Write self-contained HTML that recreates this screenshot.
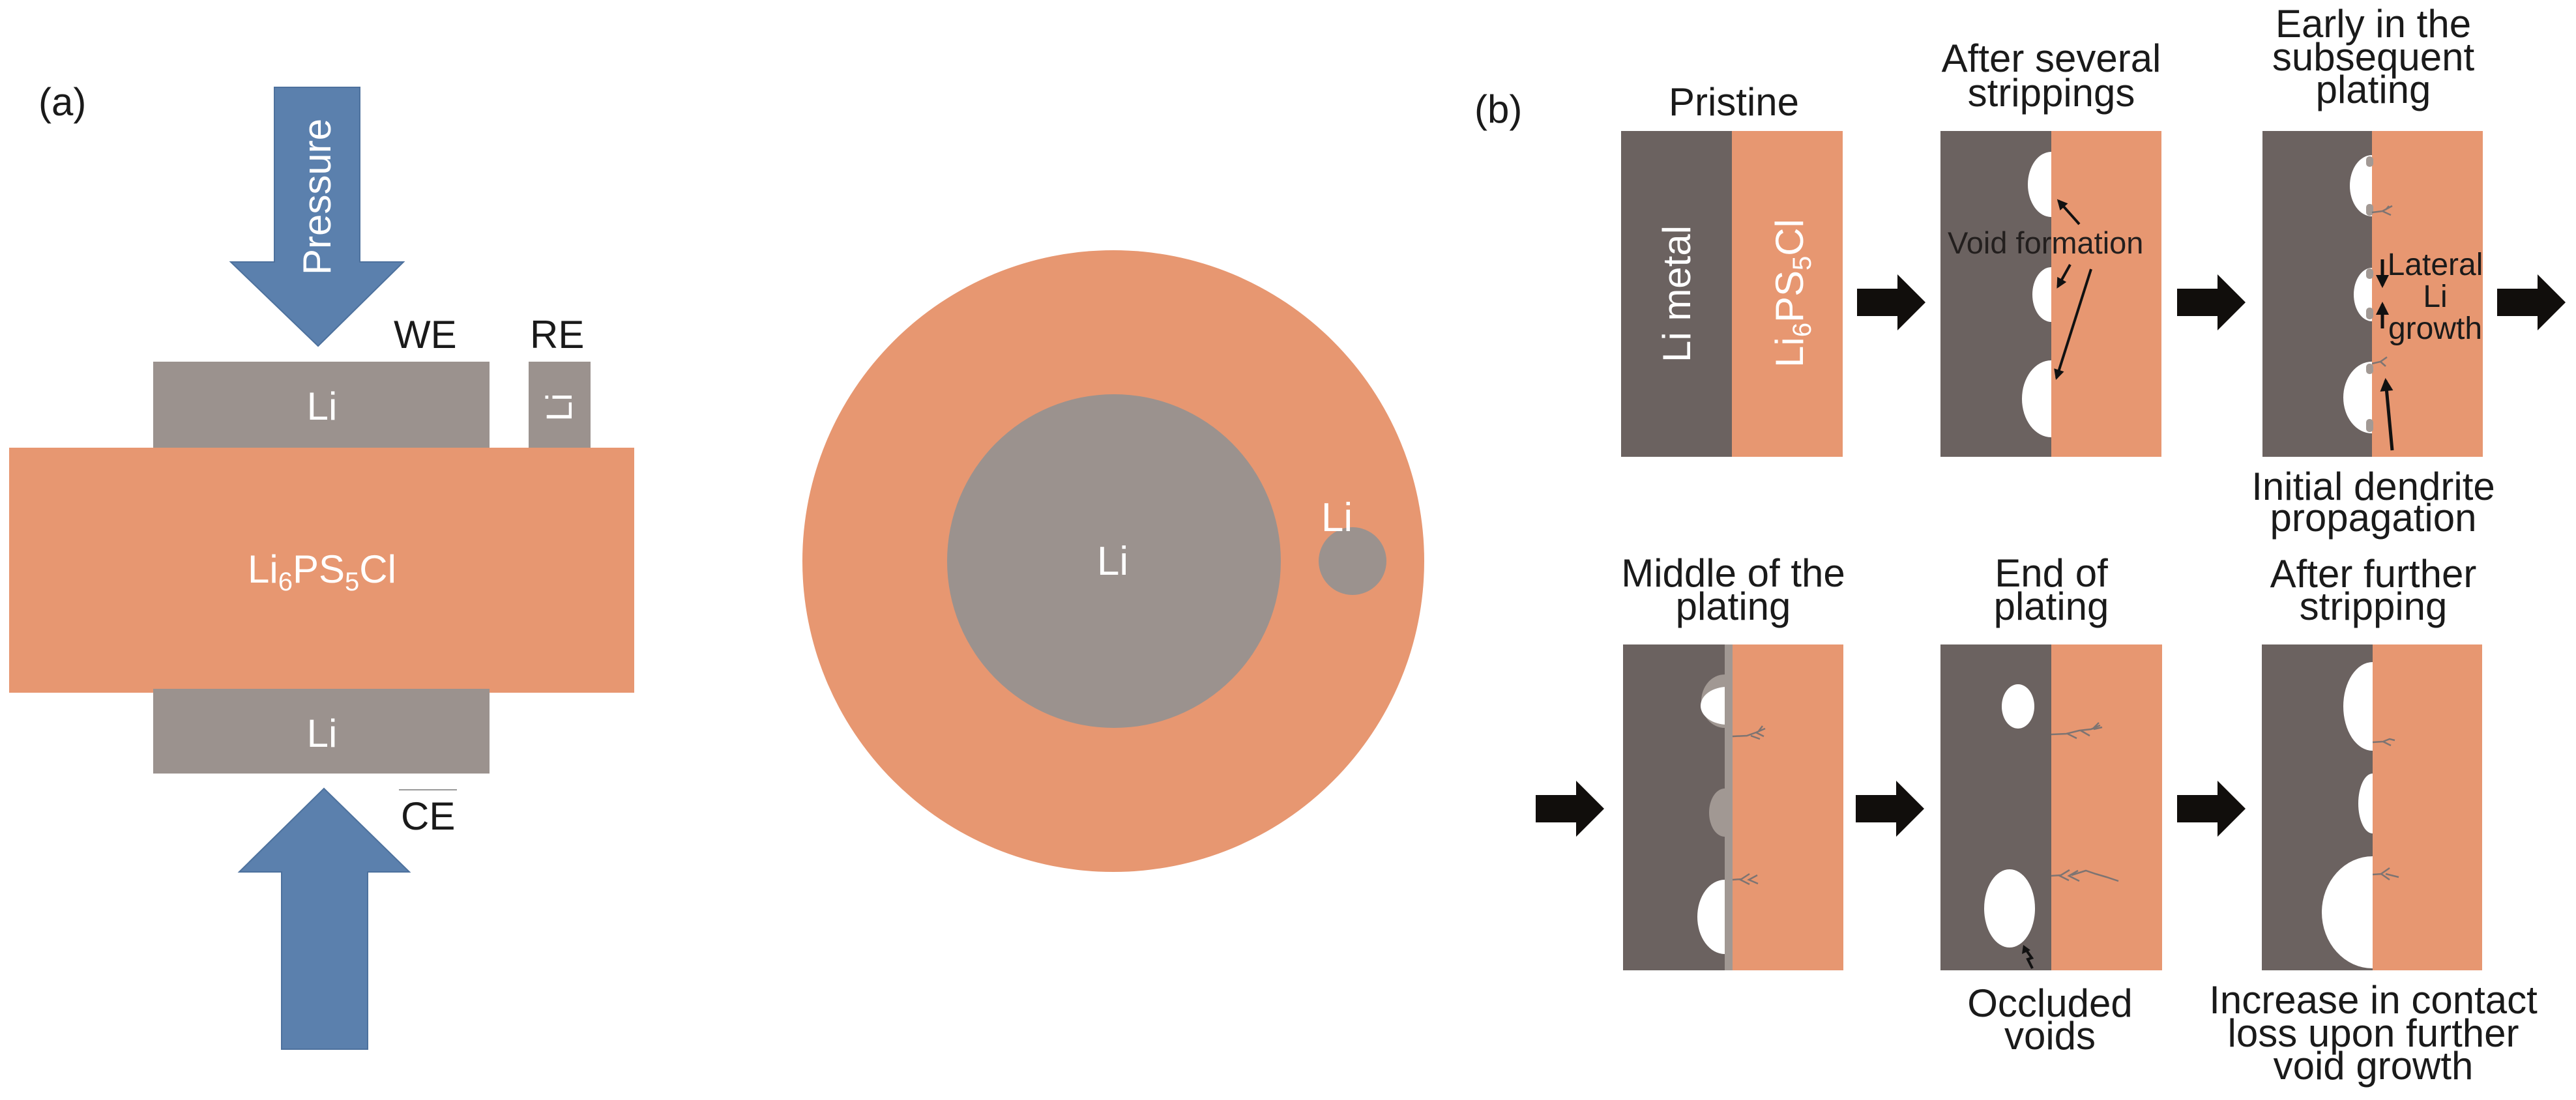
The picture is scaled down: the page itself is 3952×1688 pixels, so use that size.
<!DOCTYPE html>
<html><head><meta charset="utf-8"><style>
html,body{margin:0;padding:0;background:#fff;}
svg{display:block;}
text{font-family:"Liberation Sans",Arial,sans-serif;}
</style></head><body>
<svg width="3952" height="1688" viewBox="0 0 3952 1688" xmlns="http://www.w3.org/2000/svg">
<defs>
<marker id="ah" viewBox="0 0 10 10" refX="8" refY="5" markerWidth="5" markerHeight="4" orient="auto" markerUnits="strokeWidth">
<path d="M0,0 L10,5 L0,10 Z" fill="#111"/>
</marker>
</defs>
<rect width="3952" height="1688" fill="#fff"/>

<!-- ===== (a) ===== -->
<text x="59" y="177" font-size="60" fill="#1a1a1a">(a)</text>
<!-- down arrow -->
<polygon points="421,134 552,134 552,402 619,402 488,531 354,402 421,402" fill="#5b80ad" stroke="#4d719d" stroke-width="2"/>
<text transform="translate(486,302) rotate(-90)" x="0" y="21" text-anchor="middle" font-size="60" fill="#fff">Pressure</text>
<text x="604" y="534" font-size="60" fill="#1a1a1a">WE</text>
<text x="813" y="534" font-size="60" fill="#1a1a1a">RE</text>
<!-- top Li -->
<rect x="235" y="555" width="516" height="137" fill="#9b928e"/>
<text x="494" y="644" text-anchor="middle" font-size="60" fill="#fff">Li</text>
<rect x="811" y="555" width="95" height="137" fill="#9b928e"/>
<text transform="translate(857,625) rotate(-90)" x="0" y="20" text-anchor="middle" font-size="56" fill="#fff">Li</text>
<!-- electrolyte -->
<rect x="14" y="687" width="959" height="376" fill="#e79771"/>
<text x="494" y="894" text-anchor="middle" font-size="60" fill="#fff">Li<tspan font-size="40" dy="12">6</tspan><tspan dy="-12">PS</tspan><tspan font-size="40" dy="12">5</tspan><tspan dy="-12">Cl</tspan></text>
<!-- bottom Li -->
<rect x="235" y="1057" width="516" height="130" fill="#9b928e"/>
<text x="494" y="1146" text-anchor="middle" font-size="60" fill="#fff">Li</text>
<line x1="612" y1="1212" x2="701" y2="1212" stroke="#999" stroke-width="2"/>
<text x="615" y="1273" font-size="60" fill="#1a1a1a">CE</text>
<!-- up arrow -->
<polygon points="432,1610 564,1610 564,1338 628,1338 497,1210 367,1338 432,1338" fill="#5b80ad" stroke="#4d719d" stroke-width="2"/>

<!-- circle -->
<circle cx="1708" cy="861" r="477" fill="#e79771"/>
<circle cx="1709" cy="861" r="256" fill="#9b928e"/>
<circle cx="2075" cy="861" r="52" fill="#9b928e"/>
<text x="1707" y="882" text-anchor="middle" font-size="62" fill="#fff">Li</text>
<text x="2051" y="815" text-anchor="middle" font-size="62" fill="#fff">Li</text>

<!-- ===== (b) ===== -->
<text x="2262" y="188" font-size="60" fill="#1a1a1a">(b)</text>

<!-- Titles -->
<g font-size="60" fill="#1a1a1a" text-anchor="middle">
<text x="2660" y="177">Pristine</text>
<text x="3147" y="110">After several</text>
<text x="3147" y="163">strippings</text>
<text x="3641" y="57">Early in the</text>
<text x="3641" y="108">subsequent</text>
<text x="3641" y="158">plating</text>
<text x="3641" y="767">Initial dendrite</text>
<text x="3641" y="815">propagation</text>
<text x="2659" y="900">Middle of the</text>
<text x="2659" y="951">plating</text>
<text x="3147" y="900">End of</text>
<text x="3147" y="951">plating</text>
<text x="3641" y="901">After further</text>
<text x="3641" y="951">stripping</text>
<text x="3145" y="1560">Occluded</text>
<text x="3145" y="1610">voids</text>
<text x="3641" y="1555">Increase in contact</text>
<text x="3641" y="1606">loss upon further</text>
<text x="3641" y="1656">void growth</text>
</g>

<!-- Panel 1 -->
<rect x="2487" y="201" width="170" height="500" fill="#6b6260"/>
<rect x="2657" y="201" width="170" height="500" fill="#e79771"/>
<text transform="translate(2572,451) rotate(-90)" x="0" y="21" text-anchor="middle" font-size="60" fill="#fff">Li metal</text>
<text transform="translate(2745,450) rotate(-90)" x="0" y="21" text-anchor="middle" font-size="60" fill="#fff">Li<tspan font-size="40" dy="12">6</tspan><tspan dy="-12">PS</tspan><tspan font-size="40" dy="12">5</tspan><tspan dy="-12">Cl</tspan></text>

<!-- Panel 2 -->
<rect x="2977" y="201" width="170" height="500" fill="#6b6260"/>
<ellipse cx="3147" cy="283" rx="36" ry="50" fill="#fff"/>
<ellipse cx="3147" cy="452" rx="29" ry="42" fill="#fff"/>
<ellipse cx="3147" cy="612" rx="45" ry="59" fill="#fff"/>
<rect x="3147" y="201" width="169" height="500" fill="#e79771"/>
<text x="2988" y="389" font-size="47" fill="#231f1e">Void formation</text>
<g stroke="#111" stroke-width="4" fill="none" marker-end="url(#ah)">
<line x1="3190" y1="344" x2="3158" y2="308"/>
<line x1="3176" y1="406" x2="3157" y2="440"/>
<line x1="3208" y1="413" x2="3155" y2="580"/>
</g>

<!-- Panel 3 -->
<rect x="3471" y="201" width="168" height="500" fill="#6b6260"/>
<ellipse cx="3639" cy="285" rx="34" ry="47" fill="#fff"/>
<ellipse cx="3639" cy="452" rx="28" ry="41" fill="#fff"/>
<ellipse cx="3639" cy="610" rx="44" ry="55" fill="#fff"/>
<rect x="3639" y="201" width="170" height="500" fill="#e79771"/>
<g fill="#a29994">
<rect x="3630" y="240" width="11" height="16" rx="5"/>
<rect x="3630" y="313" width="11" height="18" rx="5"/>
<rect x="3630" y="412" width="11" height="16" rx="5"/>
<rect x="3630" y="472" width="11" height="18" rx="5"/>
<rect x="3630" y="558" width="11" height="16" rx="5"/>
<rect x="3630" y="643" width="11" height="20" rx="5"/>
</g>
<g stroke="#7d7472" stroke-width="2.5" fill="none">
<path d="M3639 326 L3655 324 L3670 316 M3655 324 L3668 330 M3660 322 L3665 316"/>
<path d="M3639 558 L3652 555 L3662 548 M3652 555 L3660 562"/>
</g>
<text x="3736" y="422" text-anchor="middle" font-size="48" fill="#1a1a1a">Lateral</text>
<text x="3736" y="471" text-anchor="middle" font-size="48" fill="#1a1a1a">Li</text>
<text x="3736" y="520" text-anchor="middle" font-size="48" fill="#1a1a1a">growth</text>
<g stroke="#111" stroke-width="5" fill="none" marker-end="url(#ah)">
<line x1="3655" y1="398" x2="3655" y2="438"/>
<line x1="3655" y1="504" x2="3655" y2="467"/>
<line x1="3670" y1="691" x2="3660" y2="584"/>
</g>

<!-- Panel 4 -->
<rect x="2490" y="989" width="168" height="500" fill="#6b6260"/>
<ellipse cx="2646" cy="1076" rx="36" ry="41" fill="#a19893"/>
<ellipse cx="2650" cy="1083" rx="41" ry="29" fill="#fff"/>
<ellipse cx="2646" cy="1247" rx="24" ry="37" fill="#a19893"/>
<ellipse cx="2646" cy="1407" rx="42" ry="57" fill="#fff"/>
<rect x="2646" y="989" width="12" height="500" fill="#a19893"/>
<rect x="2658" y="989" width="170" height="500" fill="#e79771"/>
<g stroke="#7d7472" stroke-width="2.5" fill="none">
<path d="M2658 1130 L2680 1129 L2694 1124 L2708 1118 M2686 1129 L2700 1134 M2694 1124 L2706 1130 M2698 1122 L2704 1114"/>
<path d="M2658 1350 L2672 1349 M2684 1341 L2670 1350 L2684 1357 M2696 1343 L2683 1350 L2697 1356"/>
</g>

<!-- Panel 5 -->
<rect x="2977" y="989" width="170" height="500" fill="#6b6260"/>
<ellipse cx="3096" cy="1084" rx="25" ry="34" fill="#fff"/>
<ellipse cx="3083" cy="1394" rx="39" ry="60" fill="#fff"/>
<rect x="3147" y="989" width="170" height="500" fill="#e79771"/>
<g stroke="#7d7472" stroke-width="2.5" fill="none">
<path d="M3147 1127 L3170 1126 L3190 1121 L3208 1119 L3222 1113 M3172 1126 L3186 1133 M3192 1121 L3206 1129 M3210 1119 L3220 1109 M3212 1119 L3225 1116"/>
<path d="M3147 1344 L3162 1343 M3175 1335 L3160 1344 L3174 1351 M3188 1336 L3174 1344 L3190 1352 M3178 1343 L3200 1336 L3215 1341 L3232 1346 L3250 1352"/>
</g>
<path d="M3118 1486 L3111 1472 L3117 1470 L3110 1460" stroke="#111" stroke-width="4" fill="none"/>
<polygon points="3104,1450 3102,1464 3115,1458" fill="#111"/>

<!-- Panel 6 -->
<rect x="3470" y="989" width="170" height="500" fill="#6b6260"/>
<ellipse cx="3640" cy="1084" rx="45" ry="68" fill="#fff"/>
<ellipse cx="3640" cy="1233" rx="22" ry="46" fill="#fff"/>
<ellipse cx="3640" cy="1400" rx="78" ry="86" fill="#fff"/>
<rect x="3640" y="989" width="168" height="500" fill="#e79771"/>
<g stroke="#7d7472" stroke-width="2.5" fill="none">
<path d="M3640 1139 L3656 1138 L3666 1134 L3674 1136 M3656 1138 L3668 1144"/>
<path d="M3640 1342 L3655 1341 M3666 1332 L3653 1341 L3666 1350 M3660 1341 L3680 1346"/>
</g>

<!-- Big black arrows -->
<g fill="#110e0c">
<polygon points="2849,443 2911,443 2911,421 2954,464 2911,507 2911,485 2849,485"/>
<polygon points="3340,443 3402,443 3402,421 3445,464 3402,507 3402,485 3340,485"/>
<polygon points="3831,443 3893,443 3893,421 3936,464 3893,507 3893,485 3831,485"/>
<polygon points="2356,1220 2418,1220 2418,1198 2461,1241 2418,1284 2418,1262 2356,1262"/>
<polygon points="2847,1220 2909,1220 2909,1198 2952,1241 2909,1284 2909,1262 2847,1262"/>
<polygon points="3340,1220 3402,1220 3402,1198 3445,1241 3402,1284 3402,1262 3340,1262"/>
</g>
</svg>
</body></html>
